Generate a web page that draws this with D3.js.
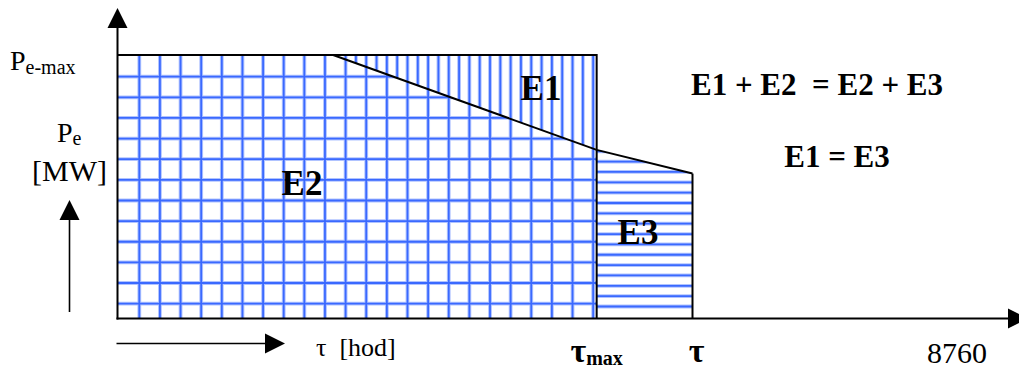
<!DOCTYPE html>
<html><head><meta charset="utf-8">
<script src="https://cdn.jsdelivr.net/npm/d3@7"></script>
<style>html,body{margin:0;padding:0;background:#fff;} svg{display:block;}</style>
</head><body>
<svg id="c" width="1019" height="370"></svg>
<script>
// ---- data ----
const hoursPerYear = 8760;          // x domain end (label "8760")
const powerMax = 100;               // P_e-max (relative, %)
const loadHours = [0, 2250, 5000, 6000];   // load duration curve, hours
const loadPower = [100, 100, 64, 55];      // load duration curve, % of P_e-max
const tauMaxHours = 5000;           // τ_max
const tauHours = 6000;              // τ
const areaLabels = ["E1", "E2", "E3"];
const equations = ["E1 + E2  = E2 + E3", "E1 = E3"];
const xTickLabels = ["τ", "τ", "8760"];

// ---- scales ----
const svg = d3.select("#c");
const x = d3.scaleLinear().domain([0, hoursPerYear]).range([117.5, 957]);
const y = d3.scaleLinear().domain([0, powerMax]).range([318.5, 55]);
const serif = "'Liberation Serif','Times New Roman',serif";

const pts = loadHours.map((h, i) => [h, loadPower[i]]);
const kneeIdx = loadHours.indexOf(tauMaxHours);
const pE2 = [[0, 0], ...pts.slice(0, kneeIdx + 1), [tauMaxHours, 0]];
const pE1 = [...pts.slice(1, kneeIdx + 1), [tauMaxHours, powerMax]];
const pE3 = [[tauMaxHours, 0], ...pts.slice(kneeIdx), [tauHours, 0]];
const toPx = p => p.map(d => [x(d[0]), y(d[1])]);

const defs = svg.append("defs");
function clip(id, poly) {
  defs.append("clipPath").attr("id", id)
    .append("polygon").attr("points", toPx(poly).map(d => d.join(",")).join(" "));
}
clip("cE2", pE2); clip("cE1", pE1); clip("cE3", pE3);

function hatch(clipId, vx, hy) {
  const g = svg.append("g").attr("clip-path", `url(#${clipId})`);
  const segs = [];
  vx.forEach(v => segs.push([v, 0, v, 370]));
  hy.forEach(v => segs.push([0, v, 1019, v]));
  [["#b0c3ff", 3.8], ["#3a69ff", 1.8]].forEach(([c, w]) => {
    g.selectAll(null).data(segs).join("line")
      .attr("x1", d => d[0]).attr("y1", d => d[1]).attr("x2", d => d[2]).attr("y2", d => d[3])
      .attr("stroke", c).attr("stroke-width", w);
  });
}
const gs = 20.63;
hatch("cE2", d3.range(139.3, x(tauMaxHours), gs), d3.range(76.7, y(0), gs));
hatch("cE1", d3.range(139.3, x(tauMaxHours), gs / 2), []);
hatch("cE3", [], d3.range(306.5, y(powerMax), -10.35));

// outlines
const line = d3.line().x(d => x(d[0])).y(d => y(d[1]));
const outl = svg.append("g").attr("fill", "none").attr("stroke", "#000").attr("stroke-width", 2);
outl.append("path").attr("d", line([[0, powerMax], [tauMaxHours, powerMax], [tauMaxHours, 0]]));
outl.append("path").attr("d", line(pts.slice(1)));
outl.append("path").attr("d", line([[tauHours, loadPower[loadPower.length - 1]], [tauHours, 0]]));

// axes
const ax = svg.append("g");
ax.append("line").attr("x1", x(0)).attr("x2", x(0)).attr("y1", y(0) + 1).attr("y2", 27)
  .attr("stroke", "#000").attr("stroke-width", 2);
ax.append("polygon").attr("points", `${x(0)},8 ${x(0) - 10},28 ${x(0) + 10},28`);
ax.append("line").attr("x1", x(0) - 1).attr("x2", 1009).attr("y1", y(0)).attr("y2", y(0))
  .attr("stroke", "#000").attr("stroke-width", 2.2);
ax.append("polygon").attr("points", `1028,${y(0)} 1008,${y(0) - 10} 1008,${y(0) + 10}`);

// indicator arrows
ax.append("line").attr("x1", 69.5).attr("x2", 69.5).attr("y1", 312).attr("y2", 219)
  .attr("stroke", "#000").attr("stroke-width", 1.6);
ax.append("polygon").attr("points", "69.5,200 59.5,220 79.5,220");
ax.append("line").attr("x1", x(0) - 1).attr("x2", 266).attr("y1", 343.5).attr("y2", 343.5)
  .attr("stroke", "#000").attr("stroke-width", 1.6);
ax.append("polygon").attr("points", "285,343.5 265,333.5 265,353.5");

// text
const t = svg.append("g").attr("font-family", serif).attr("fill", "#000");
const pm = t.append("text").attr("x", 10).attr("y", 70).attr("font-size", 28);
pm.append("tspan").text("P");
pm.append("tspan").attr("font-size", 20).attr("dy", 4).text("e-max");
const pe = t.append("text").attr("x", 57).attr("y", 142).attr("font-size", 28);
pe.append("tspan").text("P");
pe.append("tspan").attr("font-size", 20).attr("dy", 3).text("e");
t.append("text").attr("x", 69.5).attr("y", 181).attr("font-size", 30).attr("text-anchor", "middle").text("[MW]");

const bold = t.append("g").attr("font-weight", "bold");
bold.append("text").attr("x", 541).attr("y", 100).attr("font-size", 35).attr("text-anchor", "middle").text(areaLabels[0]);
bold.append("text").attr("x", 302).attr("y", 195).attr("font-size", 35).attr("text-anchor", "middle").text(areaLabels[1]);
bold.append("text").attr("x", 638).attr("y", 244).attr("font-size", 35).attr("text-anchor", "middle").text(areaLabels[2]);
bold.append("text").attr("x", 817).attr("y", 95).attr("font-size", 31).attr("text-anchor", "middle")
  .style("white-space", "pre").text(equations[0]);
bold.append("text").attr("x", 837).attr("y", 167).attr("font-size", 31).attr("text-anchor", "middle").text(equations[1]);

const th = t.append("text").attr("x", 316).attr("y", 356).attr("font-size", 26).style("white-space", "pre");
th.append("tspan").text(xTickLabels[0]);
th.append("tspan").text("  [hod]");
const tm = bold.append("text").attr("x", x(tauMaxHours)).attr("y", 362).attr("font-size", 34).attr("text-anchor", "middle");
tm.append("tspan").text(xTickLabels[0]);
tm.append("tspan").attr("font-size", 20).attr("dy", 3).text("max");
bold.append("text").attr("x", x(tauHours) + 4).attr("y", 362).attr("font-size", 34).attr("text-anchor", "middle").text(xTickLabels[1]);
t.append("text").attr("x", x(hoursPerYear)).attr("y", 363).attr("font-size", 30).attr("text-anchor", "middle").text(xTickLabels[2]);
</script>
</body></html>
